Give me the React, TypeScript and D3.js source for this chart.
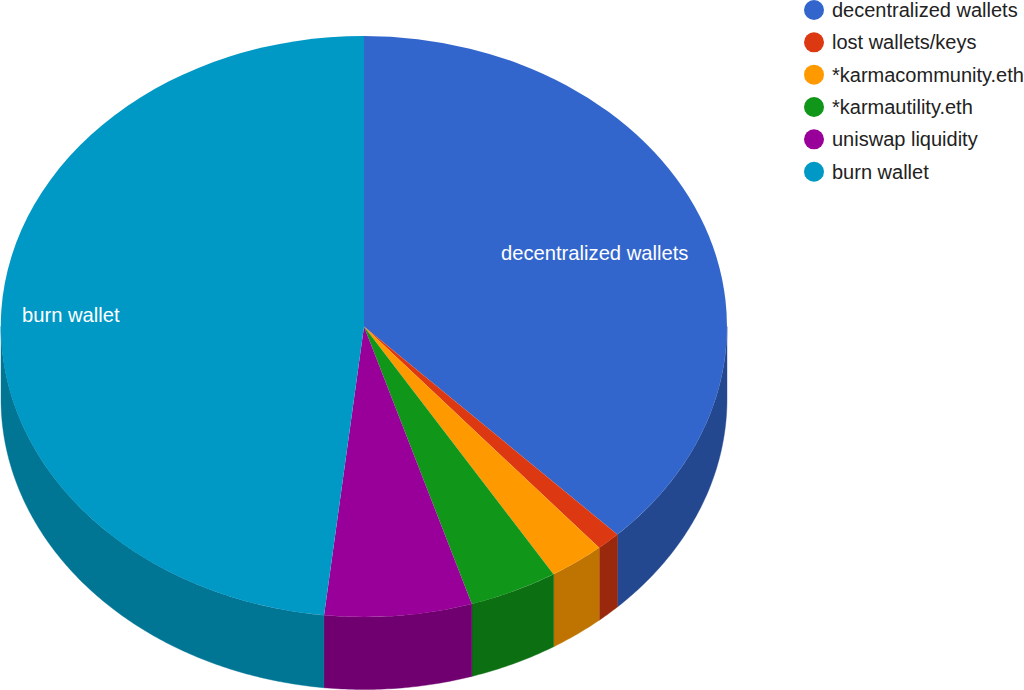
import React from "react";
import * as d3 from "d3";

const labels = ["decentralized wallets", "lost wallets/keys", "*karmacommunity.eth", "*karmautility.eth", "uniswap liquidity", "burn wallet"];
const values = [37.7, 1.08, 2.47, 3.95, 6.56, 48.24];
const colors = ["#3366cc", "#dc3912", "#ff9900", "#109618", "#990099", "#0099c6"];
const wallColors = ["#24488f", "#9a280d", "#bf7300", "#0c6f12", "#70006f", "#007594"];

const width = 1024;
const height = 690;
const cx = 364;
const cy = 326.5;
const rx = 363;
const ry = 290.5;
const depth = 72.5;
const font = "'Liberation Sans', Arial, sans-serif";

const slices = d3.pie<number>().sort(null).value((d) => d)(values);
const unitArc = d3.arc<d3.PieArcDatum<number>>().innerRadius(0).outerRadius(1);

// point on the top ellipse, angle clockwise from 12 o'clock
const px = (t: number) => cx + rx * Math.sin(t);
const py = (t: number) => cy - ry * Math.cos(t);

const wall = d3
  .area<number>()
  .x((t) => px(t))
  .y0((t) => py(t))
  .y1((t) => py(t) + depth);

// only the part of a slice on the front half shows its side
function wallPath(s: d3.PieArcDatum<number>) {
  const a = Math.max(s.startAngle, Math.PI / 2);
  const b = Math.min(s.endAngle, (3 * Math.PI) / 2);
  if (b <= a) return null;
  const n = Math.ceil((b - a) * 100);
  const steps = d3.range(n + 1).map((i) => a + ((b - a) * i) / n);
  return wall(steps);
}

const legendY = d3.scalePoint<string>().domain(labels).range([10, 171.7]);

export default function App() {
  return (
    <svg
      width={width}
      height={height}
      viewBox={`0 0 ${width} ${height}`}
      style={{ position: "fixed", left: 0, top: 0, background: "#fff" }}
    >
      <g>
        {slices.map((s, i) => {
          const d = wallPath(s);
          return d ? <path key={i} d={d} fill={wallColors[i]} stroke={wallColors[i]} strokeWidth={0.4} /> : null;
        })}
      </g>
      <g transform={`translate(${cx},${cy}) scale(${rx},${ry})`}>
        {slices.map((s, i) => (
          <path key={i} d={unitArc(s) ?? ""} fill={colors[i]} />
        ))}
      </g>
      <g fontFamily={font} fill="#fff" fontSize={20.2}>
        <text x={501} y={259.5}>{labels[0]}</text>
        <text x={22} y={321.5}>{labels[5]}</text>
      </g>
      <g fontFamily={font} fontSize={20} fill="#222">
        {labels.map((l) => (
          <g key={l} transform={`translate(0,${legendY(l)})`}>
            <circle cx={814} cy={0} r={10} fill={colors[labels.indexOf(l)]} />
            <text x={832} y={7}>{l}</text>
          </g>
        ))}
      </g>
    </svg>
  );
}
